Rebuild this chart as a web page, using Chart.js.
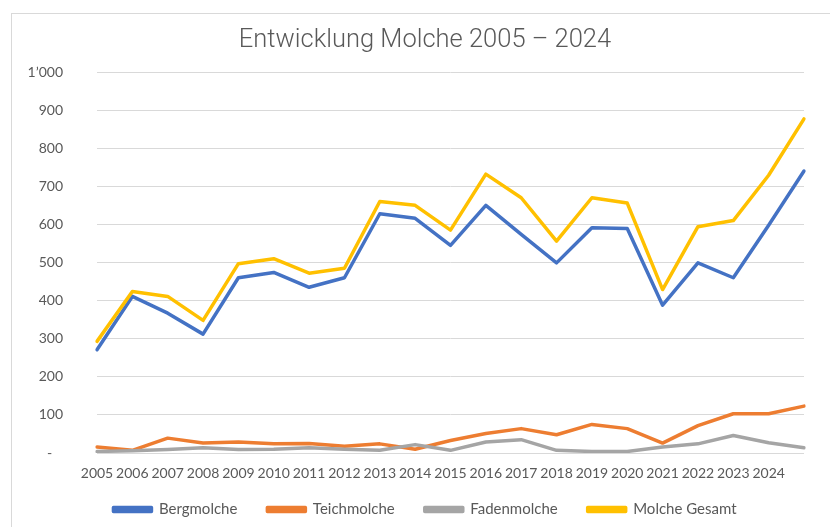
<!DOCTYPE html>
<html>
<head>
<meta charset="utf-8">
<title>Entwicklung Molche 2005 – 2024</title>
<script src="https://cdn.jsdelivr.net/npm/chart.js@4"></script>
<style>
  html, body { margin: 0; padding: 0; background: #fff; overflow: hidden; }
  #rahmen {
    position: absolute; left: 11px; top: 13px;
    width: 900px; height: 600px;
    border: 1px solid #d9d9d9; box-sizing: border-box;
  }
  #grafica { position: absolute; left: 0; top: 0; }
</style>
</head>
<body>
<div id="rahmen"></div>
<canvas id="grafica" width="850" height="527"></canvas>
<script>
// Daten der Molchzählung
var jahre = ['2005', '2006', '2007', '2008', '2009', '2010', '2011', '2012', '2013', '2014',
    '2015', '2016', '2017', '2018', '2019', '2020', '2021', '2022', '2023', '2024', ''];
var bergmolche = [271, 411, 367, 312, 460, 474, 435, 460, 628, 616,
    545, 650, 574, 499, 591, 589, 388, 499, 460, 598, 740];
var teichmolche = [16, 7, 39, 26, 29, 24, 25, 18, 24, 10,
    33, 51, 64, 48, 75, 64, 26, 72, 103, 103, 123];
var fadenmolche = [4, 6, 9, 14, 9, 10, 14, 10, 7, 22,
    7, 29, 35, 7, 4, 4, 16, 24, 46, 27, 14];
var molcheGesamt = [293, 424, 411, 348, 497, 510, 472, 485, 660, 650,
    585, 732, 670, 556, 670, 656, 429, 594, 610, 729, 877];

var grau = '#595959';
var schrift = 'Lato, "Open Sans", sans-serif';

function linie(titel, werte, farbe, reihenfolge) {
    return {
        label: titel,
        data: werte,
        borderColor: farbe,
        backgroundColor: farbe,
        borderWidth: 3.5,
        borderJoinStyle: 'round',
        borderCapStyle: 'round',
        pointRadius: 0,
        pointHoverRadius: 0,
        tension: 0,
        fill: false,
        order: reihenfolge
    };
}

// Excel zeichnet spätere Reihen oben, darum umgekehrte Reihenfolge
var datasets = [
    linie('Bergmolche', bergmolche, '#4472C4', 3),
    linie('Teichmolche', teichmolche, '#ED7D31', 2),
    linie('Fadenmolche', fadenmolche, '#A5A5A5', 1),
    linie('Molche Gesamt', molcheGesamt, '#FFC000', 0)
];

var context = document.getElementById('grafica').getContext('2d');
var chart = new Chart(context, {
    type: 'line',
    data: { labels: jahre, datasets: datasets },
    options: {
        responsive: false,
        animation: false,
        layout: { padding: { top: 10, right: 0, bottom: 0, left: 0 } },
        plugins: {
            title: {
                display: true,
                text: 'Entwicklung Molche 2005 – 2024',
                color: grau,
                font: { family: 'Roboto, sans-serif', size: 25.5, weight: '300' },
                padding: { top: 15, bottom: 16.4 }
            },
            legend: {
                position: 'bottom',
                labels: {
                    color: grau,
                    font: { family: schrift, size: 15 },
                    boxWidth: 38,
                    boxHeight: 4,
                    padding: 30,
                    sort: function (a, b) { return a.datasetIndex - b.datasetIndex; }
                }
            },
            tooltip: { enabled: false }
        },
        scales: {
            x: {
                offset: false,
                // Beschriftung ragt in den leeren Rand der Legende
                afterFit: function (scale) { scale.height = 19; },
                grid: { display: false, drawTicks: false },
                border: { display: false },
                ticks: {
                    color: grau,
                    font: { family: schrift, size: 14 },
                    mirror: true,
                    padding: -28.7,
                    maxRotation: 0,
                    autoSkip: false
                }
            },
            y: {
                min: 0,
                max: 1000,
                afterFit: function (scale) { scale.width = 97; },
                grid: { color: '#d9d9d9', lineWidth: 1, drawTicks: false },
                border: { display: false },
                ticks: {
                    stepSize: 100,
                    color: grau,
                    font: { family: schrift, size: 14 },
                    padding: 34,
                    callback: function (wert) {
                        if (wert === 0) return '-   ';
                        if (wert >= 1000) return "1\u2019000";
                        return String(wert);
                    }
                }
            },
            // leere Achse rechts, damit Titel und Legende mittig sitzen
            rechts: {
                position: 'right',
                afterFit: function (scale) { scale.width = 46; },
                grid: { display: false, drawTicks: false },
                border: { display: false },
                ticks: { display: false }
            }
        }
    }
});
</script>
</body>
</html>
